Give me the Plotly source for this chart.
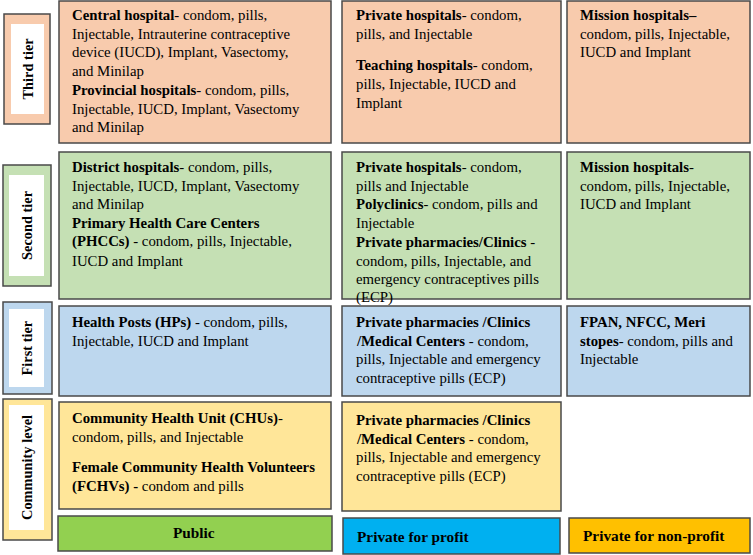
import plotly.graph_objects as go

# ---- data (text content) ----
tiers = ["Third tier", "Second tier", "First tier", "Community level"]
sectors = ["Public", "Private for profit", "Private for non-profit"]

third_public = [["<b>Central hospital</b>- condom, pills,",
                 "Injectable, Intrauterine contraceptive",
                 "device (IUCD), Implant, Vasectomy,",
                 "and Minilap",
                 "<b>Provincial hospitals</b>- condom, pills,",
                 "Injectable, IUCD, Implant, Vasectomy",
                 "and Minilap"]]
third_profit = [["<b>Private hospitals</b>- condom,",
                 "pills, and Injectable"],
                ["<b>Teaching hospitals</b>- condom,",
                 "pills, Injectable, IUCD and",
                 "Implant"]]
third_nonprofit = [["<b>Mission hospitals–</b>",
                    "condom, pills, Injectable,",
                    "IUCD and Implant"]]

second_public = [["<b>District hospitals</b>- condom, pills,",
                  "Injectable, IUCD, Implant, Vasectomy",
                  "and Minilap",
                  "<b>Primary Health Care Centers</b>",
                  "<b>(PHCCs)</b> - condom, pills, Injectable,",
                  "IUCD and Implant"]]
second_profit = [["<b>Private hospitals</b>- condom,",
                  "pills and Injectable",
                  "<b>Polyclinics</b>- condom, pills and",
                  "Injectable",
                  "<b>Private pharmacies/Clinics</b> -",
                  "condom, pills, Injectable, and",
                  "emergency contraceptives pills",
                  "(ECP)"]]
second_nonprofit = [["<b>Mission hospitals</b>-",
                     "condom, pills, Injectable,",
                     "IUCD and Implant"]]

first_public = [["<b>Health Posts (HPs)</b> - condom, pills,",
                 "Injectable, IUCD and Implant"]]
first_profit = [["<b>Private pharmacies /Clinics</b>",
                 "<b>/Medical Centers</b> - condom,",
                 "pills, Injectable and emergency",
                 "contraceptive pills (ECP)"]]
first_nonprofit = [["<b>FPAN, NFCC, Meri</b>",
                    "<b>stopes</b>- condom, pills and",
                    "Injectable"]]

community_public = [["<b>Community Health Unit (CHUs)</b>-",
                     "condom, pills, and Injectable"],
                    ["<b>Female Community Health Volunteers</b>",
                     "<b>(FCHVs) -</b> condom and pills"]]
community_profit = [["<b>Private pharmacies /Clinics</b>",
                     "<b>/Medical Centers</b> - condom,",
                     "pills, Injectable and emergency",
                     "contraceptive pills (ECP)"]]

# ---- layout / style ----
W, H = 753, 555
PEACH, GREEN, BLUE, YELLOW = "#F8CBAD", "#C5E0B4", "#BDD7EE", "#FFE699"
BORDER = "#4a4a4a"
FONT = "Liberation Serif"
FS = 14.8
LH = 18.7

cols = [(59, 331, 70), (342, 561, 354), (567, 750, 578)]
rows = [(1, 143, PEACH), (152, 299, GREEN), (306, 396, BLUE), (402, 509, YELLOW)]

cells = [
    (0, 0, third_public, 0), (0, 1, third_profit, 13), (0, 2, third_nonprofit, 0),
    (1, 0, second_public, 0), (1, 1, second_profit, 0), (1, 2, second_nonprofit, 0),
    (2, 0, first_public, 0), (2, 1, first_profit, 0), (2, 2, first_nonprofit, 0),
    (3, 0, community_public, 12), (3, 1, community_profit, 0),
]
first_line_y = [15, 167, 322, 418]
row_offsets = {(3, 1): 2}

shapes = []
annotations = []

for r, c, paras, gap in cells:
    x0, x1, tx = cols[c]
    y0, y1, color = rows[r]
    if (r, c) == (3, 1):
        y1 = 511
    shapes.append(dict(type="rect", x0=x0, x1=x1, y0=y0, y1=y1,
                       fillcolor=color, line=dict(color=BORDER, width=1.5), layer="below"))
    y = first_line_y[r] + row_offsets.get((r, c), 0)
    for pi, para in enumerate(paras):
        if pi > 0:
            y += gap
        for line in para:
            annotations.append(dict(x=tx, y=y, text=line, xanchor="left", yanchor="middle",
                                    showarrow=False,
                                    font=dict(family=FONT, size=FS, color="black")))
            y += LH

# tier labels
tier_outer = [(4, 50, 14, 124), (3, 51, 165, 286), (3, 52, 302, 394), (3, 52, 399, 540)]
tier_inner = [(11, 44, 24, 114), (9, 44, 175, 276), (9, 44, 309, 387), (9, 44, 405, 530)]
tier_colors = [PEACH, GREEN, BLUE, YELLOW]
for name, (ox0, ox1, oy0, oy1), (ix0, ix1, iy0, iy1), col in zip(tiers, tier_outer, tier_inner, tier_colors):
    shapes.append(dict(type="rect", x0=ox0, x1=ox1, y0=oy0, y1=oy1, fillcolor=col,
                       line=dict(color=BORDER, width=1.5), layer="below"))
    shapes.append(dict(type="rect", x0=ix0, x1=ix1, y0=iy0, y1=iy1, fillcolor="white",
                       line=dict(width=0), layer="below"))
    annotations.append(dict(x=(ix0 + ix1) / 2, y=(iy0 + iy1) / 2, text="<b>" + name + "</b>",
                            textangle=-90, showarrow=False, xanchor="center", yanchor="middle",
                            font=dict(family=FONT, size=14.4, color="black")))

# sector labels
sector_boxes = [(58, 332, 516, 551), (343, 560, 518, 554), (569, 750, 518, 553)]
sector_colors = ["#92D050", "#00B0F0", "#FFC000"]
for i, (name, (bx0, bx1, by0, by1), col) in enumerate(zip(sectors, sector_boxes, sector_colors)):
    shapes.append(dict(type="rect", x0=bx0, x1=bx1, y0=by0, y1=by1, fillcolor=col,
                       line=dict(color=BORDER, width=1.5), layer="below"))
    if i == 0:
        annotations.append(dict(x=(bx0 + bx1) / 2 - 1, y=(by0 + by1) / 2 - 1, text="<b>" + name + "</b>",
                                showarrow=False, xanchor="center", yanchor="middle",
                                font=dict(family=FONT, size=15.3, color="black")))
    else:
        annotations.append(dict(x=bx0 + 12, y=(by0 + by1) / 2, text="<b>" + name + "</b>",
                                showarrow=False, xanchor="left", yanchor="middle",
                                font=dict(family=FONT, size=15.3, color="black")))

fig = go.Figure()
fig.update_layout(
    width=W, height=H,
    margin=dict(l=0, r=0, t=0, b=0),
    paper_bgcolor="white", plot_bgcolor="white",
    xaxis=dict(range=[0, W], visible=False, fixedrange=True),
    yaxis=dict(range=[H, 0], visible=False, fixedrange=True),
    shapes=shapes, annotations=annotations, showlegend=False,
)
fig.write_html("out.html",
               config={"displayModeBar": False},
               post_script="document.body.style.margin='0';document.body.style.overflow='hidden';")
